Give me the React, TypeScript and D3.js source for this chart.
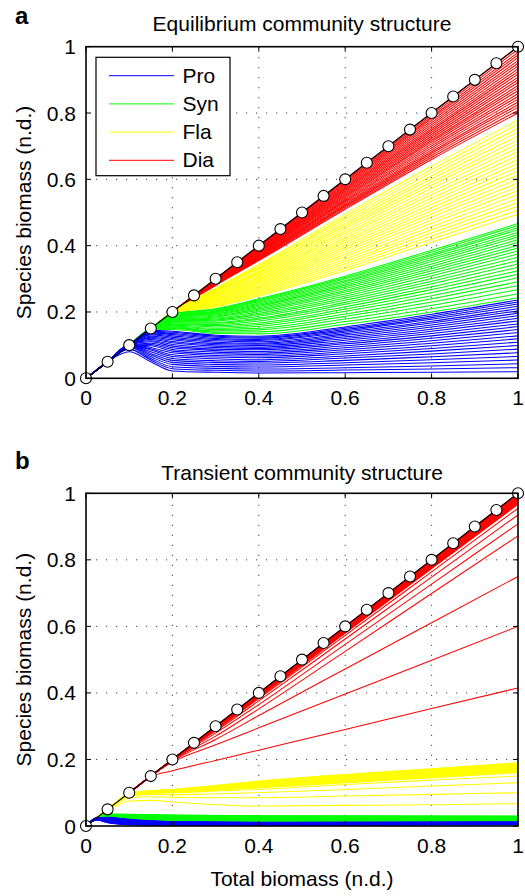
import * as d3 from 'd3';

// total biomass values where the white markers sit (species total = total biomass)
const totalBiomass = [0, 0.05, 0.1, 0.15, 0.2, 0.25, 0.3, 0.35, 0.4, 0.45, 0.5, 0.55, 0.6, 0.65, 0.7, 0.75, 0.8, 0.85, 0.9, 0.95, 1];

const tickValues = [0, 0.2, 0.4, 0.6, 0.8, 1];
const tickLabels = ['0', '0.2', '0.4', '0.6', '0.8', '1'];
const gridValues = [0.2, 0.4, 0.6, 0.8];

const legendLabels = ['Pro', 'Syn', 'Fla', 'Dia'];
const legendColors = ['#0000ff', '#00ff00', '#ffff00', '#ff0000'];

// ---- panel a: cumulative biomass, sampled at gridA ----
const gridA = [0, 0.05, 0.1, 0.15, 0.2, 0.3, 0.4, 0.6, 0.8, 1];

const proA = [
  [0, .05, .08, .05, .022, .018, .016, .017, .018, .02],
  [0, .05, .088, .055, .029, .024, .022, .025, .028, .032],
  [0, .05, .094, .06, .035, .03, .028, .032, .037, .044],
  [0, .05, .098, .065, .042, .036, .034, .04, .047, .055],
  [0, .05, .1, .07, .048, .042, .04, .047, .056, .066],
  [0, .05, .1, .075, .054, .048, .046, .054, .065, .077],
  [0, .05, .1, .08, .06, .053, .051, .061, .073, .088],
  [0, .05, .1, .085, .066, .059, .056, .067, .082, .099],
  [0, .05, .1, .089, .071, .064, .062, .074, .09, .109],
  [0, .05, .1, .093, .077, .069, .067, .08, .098, .119],
  [0, .05, .1, .098, .082, .074, .072, .086, .106, .128],
  [0, .05, .1, .102, .087, .079, .076, .092, .113, .138],
  [0, .05, .1, .106, .092, .084, .081, .098, .121, .147],
  [0, .05, .1, .11, .097, .088, .086, .104, .128, .156],
  [0, .05, .1, .113, .102, .093, .09, .109, .135, .164],
  [0, .05, .1, .117, .107, .097, .094, .115, .142, .173],
  [0, .05, .1, .121, .111, .101, .099, .12, .148, .181],
  [0, .05, .1, .124, .116, .105, .103, .125, .155, .189],
  [0, .05, .1, .127, .12, .109, .106, .13, .161, .196],
  [0, .05, .1, .131, .124, .113, .11, .134, .167, .203],
  [0, .05, .1, .134, .128, .117, .114, .139, .172, .21],
  [0, .05, .1, .137, .132, .12, .117, .143, .178, .217],
  [0, .05, .1, .14, .135, .124, .121, .147, .183, .224],
  [0, .05, .1, .142, .139, .127, .124, .151, .188, .23],
  [0, .05, .1, .145, .142, .13, .127, .155, .193, .236],
];

const synA = [
  [0, .05, .1, .146, .147, .135, .134, .163, .2, .243],
  [0, .05, .1, .147, .15, .139, .14, .171, .21, .255],
  [0, .05, .1, .148, .152, .143, .146, .179, .22, .268],
  [0, .05, .1, .149, .155, .147, .151, .187, .23, .28],
  [0, .05, .1, .15, .157, .151, .157, .194, .24, .291],
  [0, .05, .1, .15, .16, .155, .162, .202, .249, .303],
  [0, .05, .1, .15, .162, .159, .167, .209, .259, .314],
  [0, .05, .1, .15, .164, .162, .173, .216, .268, .324],
  [0, .05, .1, .15, .166, .166, .178, .223, .276, .335],
  [0, .05, .1, .15, .169, .169, .182, .229, .285, .345],
  [0, .05, .1, .15, .171, .173, .187, .236, .293, .355],
  [0, .05, .1, .15, .173, .176, .192, .242, .301, .365],
  [0, .05, .1, .15, .175, .179, .196, .248, .309, .375],
  [0, .05, .1, .15, .177, .182, .201, .254, .317, .384],
  [0, .05, .1, .15, .178, .185, .205, .26, .324, .393],
  [0, .05, .1, .15, .18, .188, .209, .265, .331, .401],
  [0, .05, .1, .15, .182, .191, .213, .271, .338, .41],
  [0, .05, .1, .15, .184, .194, .217, .276, .345, .418],
  [0, .05, .1, .15, .185, .196, .22, .281, .352, .426],
  [0, .05, .1, .15, .187, .199, .224, .286, .358, .433],
  [0, .05, .1, .15, .188, .201, .227, .291, .364, .44],
  [0, .05, .1, .15, .19, .203, .231, .295, .37, .448],
  [0, .05, .1, .15, .191, .206, .234, .3, .375, .454],
  [0, .05, .1, .15, .193, .208, .237, .304, .381, .461],
  [0, .05, .1, .15, .194, .21, .24, .308, .386, .467],
];

const flaA = [
  [0, .05, .1, .15, .196, .215, .248, .325, .41, .495],
  [0, .05, .1, .15, .196, .217, .252, .332, .42, .507],
  [0, .05, .1, .15, .196, .22, .256, .339, .429, .519],
  [0, .05, .1, .15, .196, .222, .26, .346, .439, .53],
  [0, .05, .1, .15, .196, .224, .264, .353, .448, .542],
  [0, .05, .1, .15, .196, .227, .268, .36, .458, .554],
  [0, .05, .1, .15, .197, .229, .272, .368, .468, .566],
  [0, .05, .1, .15, .197, .232, .276, .375, .477, .578],
  [0, .05, .1, .15, .197, .234, .28, .382, .487, .589],
  [0, .05, .1, .15, .197, .236, .284, .389, .496, .601],
  [0, .05, .1, .15, .197, .239, .288, .396, .506, .613],
  [0, .05, .1, .15, .197, .241, .292, .403, .515, .625],
  [0, .05, .1, .15, .198, .244, .296, .41, .525, .637],
  [0, .05, .1, .15, .198, .246, .299, .417, .535, .648],
  [0, .05, .1, .15, .198, .248, .303, .424, .544, .66],
  [0, .05, .1, .15, .198, .251, .307, .431, .554, .672],
  [0, .05, .1, .15, .198, .253, .311, .438, .563, .684],
  [0, .05, .1, .15, .198, .255, .315, .445, .573, .695],
  [0, .05, .1, .15, .199, .258, .319, .453, .583, .707],
  [0, .05, .1, .15, .199, .26, .323, .46, .592, .719],
  [0, .05, .1, .15, .199, .263, .327, .467, .602, .731],
  [0, .05, .1, .15, .199, .265, .331, .474, .611, .743],
  [0, .05, .1, .15, .199, .267, .335, .481, .621, .754],
  [0, .05, .1, .15, .199, .27, .339, .488, .63, .766],
  [0, .05, .1, .15, .2, .272, .343, .495, .64, .778],
];

const diaA = [
  [0, .05, .1, .15, .2, .28, .355, .51, .66, .8],
  [0, .05, .1, .15, .2, .281, .357, .514, .666, .808],
  [0, .05, .1, .15, .2, .282, .359, .518, .672, .817],
  [0, .05, .1, .15, .2, .283, .361, .521, .678, .825],
  [0, .05, .1, .15, .2, .283, .363, .525, .683, .833],
  [0, .05, .1, .15, .2, .284, .364, .529, .689, .842],
  [0, .05, .1, .15, .2, .285, .366, .533, .695, .85],
  [0, .05, .1, .15, .2, .286, .368, .536, .701, .858],
  [0, .05, .1, .15, .2, .287, .37, .54, .707, .867],
  [0, .05, .1, .15, .2, .288, .372, .544, .713, .875],
  [0, .05, .1, .15, .2, .288, .374, .548, .718, .883],
  [0, .05, .1, .15, .2, .289, .376, .551, .724, .892],
  [0, .05, .1, .15, .2, .29, .378, .555, .73, .9],
  [0, .05, .1, .15, .2, .291, .379, .559, .736, .908],
  [0, .05, .1, .15, .2, .292, .381, .563, .742, .917],
  [0, .05, .1, .15, .2, .293, .383, .566, .748, .925],
  [0, .05, .1, .15, .2, .293, .385, .57, .753, .933],
  [0, .05, .1, .15, .2, .294, .387, .574, .759, .942],
  [0, .05, .1, .15, .2, .295, .389, .578, .765, .95],
  [0, .05, .1, .15, .2, .296, .391, .581, .771, .958],
  [0, .05, .1, .15, .2, .297, .393, .585, .777, .967],
  [0, .05, .1, .15, .2, .298, .394, .589, .783, .975],
  [0, .05, .1, .15, .2, .298, .396, .593, .788, .983],
  [0, .05, .1, .15, .2, .299, .398, .596, .794, .992],
  [0, .05, .1, .15, .2, .3, .4, .6, .8, 1],
];

// ---- panel b ----
const gridBLow = [0, 0.025, 0.05, 0.1, 0.2, 0.4, 1];

const proB = [
  [0, .018, .01, .004, .002, .002, .004],
  [0, .0183, .0107, .0047, .0025, .0024, .0043],
  [0, .0186, .0113, .0053, .0029, .0028, .0047],
  [0, .0189, .012, .006, .0034, .0031, .005],
  [0, .0192, .0127, .0067, .0038, .0035, .0053],
  [0, .0195, .0133, .0073, .0043, .0039, .0057],
  [0, .0198, .014, .008, .0048, .0043, .006],
  [0, .02, .0147, .0087, .0052, .0046, .0063],
  [0, .0203, .0153, .0093, .0057, .005, .0067],
  [0, .0206, .016, .01, .0061, .0054, .007],
  [0, .0209, .0167, .0107, .0066, .0058, .0073],
  [0, .0212, .0173, .0113, .007, .0061, .0077],
  [0, .0215, .018, .012, .0075, .0065, .008],
  [0, .0218, .0187, .0127, .008, .0069, .0083],
  [0, .0221, .0193, .0133, .0084, .0073, .0087],
  [0, .0224, .02, .014, .0089, .0076, .009],
  [0, .0227, .0207, .0147, .0093, .008, .0093],
  [0, .023, .0213, .0153, .0098, .0084, .0097],
  [0, .0233, .022, .016, .0103, .0088, .01],
  [0, .0235, .0227, .0167, .0107, .0091, .0103],
  [0, .0238, .0233, .0173, .0112, .0095, .0107],
  [0, .0241, .024, .018, .0116, .0099, .011],
  [0, .0244, .0247, .0187, .0121, .0103, .0113],
  [0, .0247, .0253, .0193, .0125, .0106, .0117],
  [0, .025, .026, .02, .013, .011, .012],
];

const synB = [
  [0, .025, .027, .021, .015, .013, .013],
  [0, .025, .0274, .0216, .0158, .0138, .0137],
  [0, .025, .0278, .0222, .0165, .0145, .0144],
  [0, .025, .0281, .0228, .0173, .0153, .0151],
  [0, .025, .0285, .0233, .018, .016, .0158],
  [0, .025, .0289, .0239, .0188, .0168, .0165],
  [0, .025, .0293, .0245, .0195, .0175, .0173],
  [0, .025, .0296, .0251, .0203, .0183, .018],
  [0, .025, .03, .0257, .021, .019, .0187],
  [0, .025, .0304, .0263, .0218, .0198, .0194],
  [0, .025, .0308, .0268, .0225, .0205, .0201],
  [0, .025, .0311, .0274, .0233, .0213, .0208],
  [0, .025, .0315, .028, .024, .022, .0215],
  [0, .025, .0319, .0286, .0248, .0228, .0222],
  [0, .025, .0323, .0292, .0255, .0235, .0229],
  [0, .025, .0326, .0298, .0263, .0243, .0236],
  [0, .025, .033, .0303, .027, .025, .0243],
  [0, .025, .0334, .0309, .0278, .0258, .025],
  [0, .025, .0338, .0315, .0285, .0265, .0258],
  [0, .025, .0341, .0321, .0293, .0273, .0265],
  [0, .025, .0345, .0327, .03, .028, .0272],
  [0, .025, .0349, .0333, .0308, .0288, .0279],
  [0, .025, .0353, .0338, .0315, .0295, .0286],
  [0, .025, .0356, .0344, .0323, .0303, .0293],
  [0, .025, .036, .035, .033, .031, .03],
];

const gridB = [0, 0.05, 0.1, 0.15, 0.2, 0.3, 0.4, 0.6, 0.8, 1];

const flaB = [
  [0, .045, .075, .077, .072, .064, .06, .062, .064, .067],
  [0, .047, .085, .088, .086, .085, .085, .09, .095, .1],
  [0, .048, .09, .095, .094, .097, .1, .11, .12, .13],
  [0, .049, .092, .098, .1, .105, .11, .125, .138, .15],
  [0, .05, .093, .1, .1, .108, .115, .13, .145, .16],
  [0, .05, .093, .1, .101, .109, .116, .131, .146, .162],
  [0, .05, .094, .101, .101, .109, .117, .133, .148, .163],
  [0, .05, .094, .101, .102, .11, .118, .134, .149, .165],
  [0, .05, .094, .101, .102, .111, .119, .135, .15, .166],
  [0, .05, .094, .102, .103, .112, .12, .136, .152, .168],
  [0, .05, .095, .102, .103, .112, .121, .138, .153, .169],
  [0, .05, .095, .102, .104, .113, .122, .139, .154, .171],
  [0, .05, .095, .102, .104, .114, .123, .14, .156, .172],
  [0, .05, .095, .103, .105, .114, .124, .141, .157, .174],
  [0, .05, .096, .103, .105, .115, .125, .143, .159, .175],
  [0, .05, .096, .103, .106, .116, .126, .144, .16, .177],
  [0, .05, .096, .104, .106, .116, .127, .145, .161, .178],
  [0, .05, .096, .104, .107, .117, .128, .146, .163, .18],
  [0, .05, .097, .104, .107, .118, .129, .148, .164, .181],
  [0, .05, .097, .105, .108, .119, .13, .149, .165, .183],
  [0, .05, .097, .105, .108, .119, .131, .15, .167, .184],
  [0, .05, .097, .105, .109, .12, .132, .151, .168, .186],
  [0, .05, .098, .105, .109, .121, .133, .153, .169, .187],
  [0, .05, .098, .106, .11, .121, .134, .154, .171, .189],
  [0, .05, .098, .106, .11, .122, .135, .155, .172, .19],
];

const diaB = [
  [0, .05, .1, .148, .166, .197, .228, .29, .353, .415],
  [0, .05, .1, .15, .192, .244, .295, .397, .498, .6],
  [0, .05, .1, .15, .195, .26, .332, .472, .611, .75],
  [0, .05, .1, .15, .197, .27, .352, .525, .699, .872],
  [0, .05, .1, .15, .197, .279, .365, .546, .727, .908],
  [0, .05, .1, .15, .198, .285, .376, .562, .748, .935],
  [0, .05, .1, .15, .198, .288, .383, .573, .764, .955],
  [0, .05, .1, .15, .199, .29, .387, .58, .774, .967],
  [0, .05, .1, .15, .199, .291, .388, .581, .775, .969],
  [0, .05, .1, .15, .199, .291, .388, .583, .777, .971],
  [0, .05, .1, .15, .199, .292, .389, .584, .778, .973],
  [0, .05, .1, .15, .199, .293, .39, .585, .78, .975],
  [0, .05, .1, .15, .199, .293, .391, .586, .782, .977],
  [0, .05, .1, .15, .199, .294, .392, .587, .783, .979],
  [0, .05, .1, .15, .199, .294, .392, .589, .785, .981],
  [0, .05, .1, .15, .199, .295, .393, .59, .786, .983],
  [0, .05, .1, .15, .2, .295, .394, .59, .787, .984],
  [0, .05, .1, .15, .2, .296, .394, .592, .789, .986],
  [0, .05, .1, .15, .2, .296, .395, .593, .79, .988],
  [0, .05, .1, .15, .2, .297, .396, .594, .792, .99],
  [0, .05, .1, .15, .2, .298, .397, .595, .794, .992],
  [0, .05, .1, .15, .2, .298, .398, .596, .795, .994],
  [0, .05, .1, .15, .2, .299, .398, .598, .797, .996],
  [0, .05, .1, .15, .2, .299, .399, .599, .798, .998],
  [0, .05, .1, .15, .2, .3, .4, .6, .8, 1],
];

const FONT = '"Liberation Sans", Arial, Helvetica, sans-serif';
const LEFT = 86;
const RIGHT = 518;

type Group = { grid: number[]; rows: number[][]; color: string };

const Panel = ({
  top, bottom, title, titleY, letter, letterY, groups, legend, xLabel,
}: {
  top: number; bottom: number; title: string; titleY: number; letter: string; letterY: number;
  groups: Group[]; legend?: boolean; xLabel?: string;
}) => {
  const x = d3.scaleLinear().domain([0, 1]).range([LEFT, RIGHT]);
  const y = d3.scaleLinear().domain([0, 1]).range([bottom, top]);
  const line = d3
    .line<[number, number]>()
    .x((d) => x(d[0]))
    .y((d) => y(d[1]))
    .curve(d3.curveMonotoneX);
  const totalLine = d3.line<number>().x((d) => x(d)).y((d) => y(d));
  const tick = 5;

  return (
    <g>
      <text x={15} y={letterY} fontFamily={FONT} fontWeight="bold" fontSize={24}>{letter}</text>
      <text x={(LEFT + RIGHT) / 2} y={titleY} fontFamily={FONT} fontSize={21} textAnchor="middle">{title}</text>

      {/* dotted grid */}
      {gridValues.map((g) => (
        <g key={`g${g}`} stroke="#444" strokeWidth={1} strokeDasharray="1.2 8.8">
          <line x1={x(g)} x2={x(g)} y1={y(0)} y2={y(1)} />
          <line x1={x(0)} x2={x(1)} y1={y(g)} y2={y(g)} />
        </g>
      ))}

      {/* cumulative species lines */}
      {groups.map((grp, gi) =>
        grp.rows.map((row, ri) => (
          <path
            key={`${gi}-${ri}`}
            d={line(row.map((v, i) => [grp.grid[i], v] as [number, number])) ?? ''}
            fill="none"
            stroke={grp.color}
            strokeWidth={1.05}
          />
        ))
      )}

      {/* total */}
      <path d={totalLine(totalBiomass) ?? ''} fill="none" stroke="#000" strokeWidth={1.2} />
      {totalBiomass.map((t) => (
        <circle key={`c${t}`} cx={x(t)} cy={y(t)} r={5.5} fill="#fff" stroke="#000" strokeWidth={1.1} />
      ))}

      {/* axes box + ticks */}
      <rect x={x(0)} y={y(1)} width={x(1) - x(0)} height={y(0) - y(1)} fill="none" stroke="#000" strokeWidth={1.6} />
      {tickValues.map((t) => (
        <g key={`t${t}`} stroke="#000" strokeWidth={1}>
          <line x1={x(t)} x2={x(t)} y1={y(0)} y2={y(0) - tick} />
          <line x1={x(t)} x2={x(t)} y1={y(1)} y2={y(1) + tick} />
          <line x1={x(0)} x2={x(0) + tick} y1={y(t)} y2={y(t)} />
          <line x1={x(1)} x2={x(1) - tick} y1={y(t)} y2={y(t)} />
        </g>
      ))}
      {tickValues.map((t, i) => (
        <text key={`xl${t}`} x={x(t)} y={y(0) + 27} fontFamily={FONT} fontSize={21} textAnchor="middle">
          {tickLabels[i]}
        </text>
      ))}
      {tickValues.map((t, i) => (
        <text key={`yl${t}`} x={x(0) - 10} y={y(t) + 7.5} fontFamily={FONT} fontSize={21} textAnchor="end">
          {tickLabels[i]}
        </text>
      ))}
      <text
        transform={`translate(31,${(top + bottom) / 2}) rotate(-90)`}
        fontFamily={FONT}
        fontSize={21}
        textAnchor="middle"
      >
        Species biomass (n.d.)
      </text>
      {xLabel && (
        <text x={(LEFT + RIGHT) / 2} y={bottom + 60} fontFamily={FONT} fontSize={21} textAnchor="middle">
          {xLabel}
        </text>
      )}

      {legend && (
        <g>
          <rect x={96} y={57.3} width={134} height={118.4} fill="#fff" stroke="#000" strokeWidth={1.2} />
          {legendLabels.map((lab, i) => {
            const ly = 75.7 + i * 28.2;
            return (
              <g key={lab}>
                <line x1={109} x2={174} y1={ly} y2={ly} stroke={legendColors[i]} strokeWidth={1} />
                <text x={182.5} y={ly + 7} fontFamily={FONT} fontSize={21}>{lab}</text>
              </g>
            );
          })}
        </g>
      )}
    </g>
  );
};

export default function App() {
  const groupsA: Group[] = [
    { grid: gridA, rows: diaA, color: legendColors[3] },
    { grid: gridA, rows: flaA, color: legendColors[2] },
    { grid: gridA, rows: synA, color: legendColors[1] },
    { grid: gridA, rows: proA, color: legendColors[0] },
  ];
  const groupsB: Group[] = [
    { grid: gridB, rows: diaB, color: legendColors[3] },
    { grid: gridB, rows: flaB, color: legendColors[2] },
    { grid: gridBLow, rows: synB, color: legendColors[1] },
    { grid: gridBLow, rows: proB, color: legendColors[0] },
  ];
  return (
    <svg width={525} height={896} style={{ position: 'absolute', left: 0, top: 0, background: '#fff' }}>
      <rect width={525} height={896} fill="#fff" />
      <Panel
        top={46.7}
        bottom={378.3}
        title="Equilibrium community structure"
        titleY={30.5}
        letter="a"
        letterY={23.5}
        groups={groupsA}
        legend
      />
      <Panel
        top={493.3}
        bottom={826}
        title="Transient community structure"
        titleY={480}
        letter="b"
        letterY={468.5}
        groups={groupsB}
        xLabel="Total biomass (n.d.)"
      />
    </svg>
  );
}
